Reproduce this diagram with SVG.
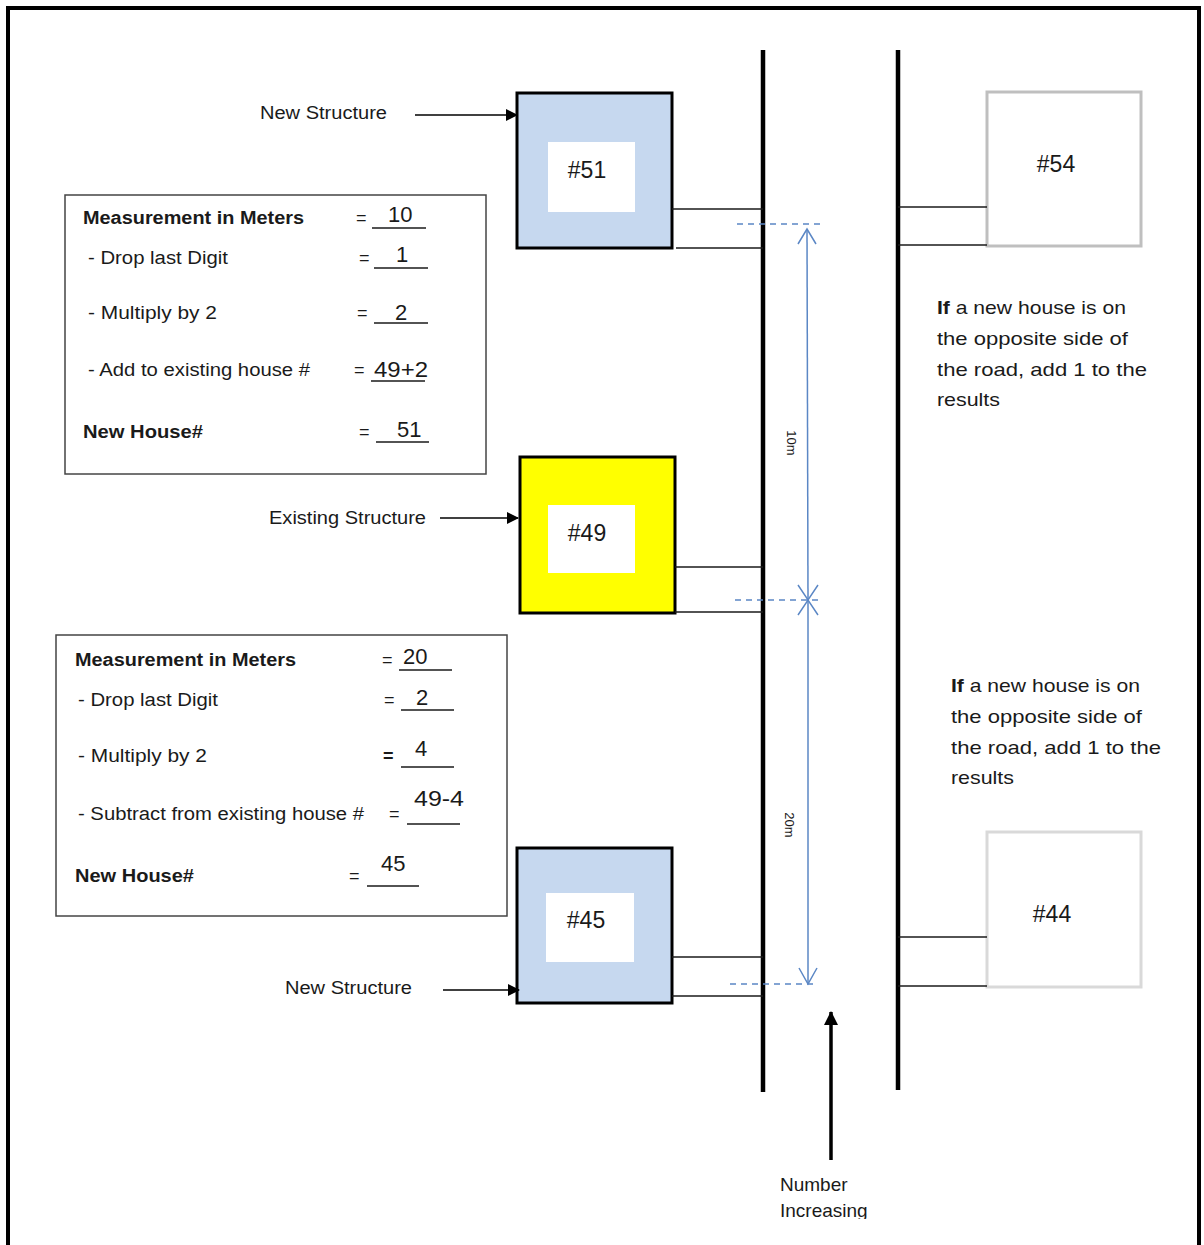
<svg xmlns="http://www.w3.org/2000/svg" width="1204" height="1245" viewBox="0 0 1204 1245">
<style>
text{font-family:"Liberation Sans",Arial,sans-serif;fill:#1a1a1a}
.lbl{font-size:18px}
.b{font-weight:bold}
.num{font-size:22px}
.hn{font-size:23px;text-anchor:middle}
.thin{stroke:#1a1a1a;stroke-width:1.3;fill:none}
.road{stroke:#000;stroke-width:4.5;fill:none}
.dim{stroke:#5b87c5;stroke-width:1.5;fill:none}
.dash{stroke:#5b87c5;stroke-width:1.5;stroke-dasharray:6 5;fill:none}
.arr{stroke:#000;stroke-width:1.5;fill:none}
.box{stroke:#444;stroke-width:1.5;fill:#fff}
.note{font-size:19px}
</style>
<defs>
<marker id="ah" markerWidth="12" markerHeight="12" refX="11" refY="6" orient="auto" markerUnits="userSpaceOnUse">
<path d="M0,0 L12,6 L0,12 Z" fill="#000"/>
</marker>
<marker id="ahBig" markerWidth="14" markerHeight="14" refX="13" refY="7" orient="auto" markerUnits="userSpaceOnUse">
<path d="M0,0 L14,7 L0,14 Z" fill="#000"/>
</marker>
<clipPath id="clipBottom"><rect x="0" y="0" width="1204" height="1219"/></clipPath>
</defs>
<rect x="0" y="0" width="1204" height="1245" fill="#fff"/>
<rect x="8" y="8" width="1191" height="1270" fill="none" stroke="#000" stroke-width="4"/>

<g id="roads">
<line class="road" x1="763" y1="50" x2="763" y2="1092"/>
<line class="road" x1="898" y1="50" x2="898" y2="1090"/>
</g>

<g id="house-51">
<rect x="517" y="93" width="155" height="155" fill="#c6d8ef" stroke="#000" stroke-width="3"/>
<rect x="548" y="142" width="87" height="70" fill="#fff"/>
<text class="hn" x="587" y="178">#51</text>
</g>
<g id="house-49">
<rect x="520" y="457" width="155" height="156" fill="#ffff00" stroke="#000" stroke-width="3"/>
<rect x="548" y="505" width="87" height="68" fill="#fff"/>
<text class="hn" x="587" y="541">#49</text>
</g>
<g id="house-45">
<rect x="517" y="848" width="155" height="155" fill="#c6d8ef" stroke="#000" stroke-width="3"/>
<rect x="546" y="893" width="88" height="69" fill="#fff"/>
<text class="hn" x="586" y="928">#45</text>
</g>
<g id="house-54">
<rect x="987" y="92" width="154" height="154" fill="#fff" stroke="#bfbfbf" stroke-width="3"/>
<text class="hn" x="1056" y="172">#54</text>
</g>
<g id="house-44">
<rect x="987" y="832" width="154" height="155" fill="#fff" stroke="#d9d9d9" stroke-width="3"/>
<text class="hn" x="1052" y="922">#44</text>
</g>

<g id="calc-box-1">
<rect class="box" x="65" y="195" width="421" height="279"/>
<text class="lbl b" x="83" y="224" textLength="221" lengthAdjust="spacingAndGlyphs">Measurement in Meters</text>
<text class="lbl" x="356" y="224">=</text>
<text class="num" x="388" y="222">10</text>
<line class="thin" x1="372" y1="228" x2="426" y2="228"/>
<text class="lbl" x="88" y="264" textLength="140" lengthAdjust="spacingAndGlyphs">- Drop last Digit</text>
<text class="lbl" x="359" y="264">=</text>
<text class="num" x="396" y="262">1</text>
<line class="thin" x1="374" y1="268" x2="428" y2="268"/>
<text class="lbl" x="88" y="319" textLength="129" lengthAdjust="spacingAndGlyphs">- Multiply  by 2</text>
<text class="lbl" x="357" y="319">=</text>
<text class="num" x="395" y="320">2</text>
<line class="thin" x1="374" y1="323" x2="428" y2="323"/>
<text class="lbl" x="88" y="376" textLength="222" lengthAdjust="spacingAndGlyphs">- Add to existing house  #</text>
<text class="lbl" x="354" y="376">=</text>
<text class="num" x="374" y="377" textLength="54" lengthAdjust="spacingAndGlyphs">49+2</text>
<line class="thin" x1="371" y1="381" x2="425" y2="381"/>
<text class="lbl b" x="83" y="438" textLength="120" lengthAdjust="spacingAndGlyphs">New House#</text>
<text class="lbl" x="359" y="438">=</text>
<text class="num" x="397" y="437">51</text>
<line class="thin" x1="376" y1="442" x2="429" y2="442"/>
</g>

<g id="calc-box-2">
<rect class="box" x="56" y="635" width="451" height="281"/>
<text class="lbl b" x="75" y="666" textLength="221" lengthAdjust="spacingAndGlyphs">Measurement in Meters</text>
<text class="lbl" x="382" y="666">=</text>
<text class="num" x="403" y="664">20</text>
<line class="thin" x1="399" y1="670" x2="452" y2="670"/>
<text class="lbl" x="78" y="706" textLength="140" lengthAdjust="spacingAndGlyphs">- Drop last Digit</text>
<text class="lbl" x="384" y="706">=</text>
<text class="num" x="416" y="705">2</text>
<line class="thin" x1="401" y1="710" x2="454" y2="710"/>
<text class="lbl" x="78" y="762" textLength="129" lengthAdjust="spacingAndGlyphs">- Multiply  by 2</text>
<text class="lbl b" x="383" y="762">=</text>
<text class="num" x="415" y="756">4</text>
<line class="thin" x1="401" y1="767" x2="454" y2="767"/>
<text class="lbl" x="78" y="820" textLength="286" lengthAdjust="spacingAndGlyphs">- Subtract from existing house  #</text>
<text class="lbl" x="389" y="820">=</text>
<text class="num" x="414" y="806" textLength="50" lengthAdjust="spacingAndGlyphs">49-4</text>
<line class="thin" x1="407" y1="824" x2="460" y2="824"/>
<text class="lbl b" x="75" y="882" textLength="119" lengthAdjust="spacingAndGlyphs">New House#</text>
<text class="lbl" x="349" y="882">=</text>
<text class="num" x="381" y="871">45</text>
<line class="thin" x1="367" y1="886" x2="419" y2="886"/>
</g>

<g id="labels">
<text class="lbl" x="260" y="119" textLength="127" lengthAdjust="spacingAndGlyphs">New Structure</text>
<text class="lbl" x="269" y="524" textLength="157" lengthAdjust="spacingAndGlyphs">Existing Structure</text>
<text class="lbl" x="285" y="994" textLength="127" lengthAdjust="spacingAndGlyphs">New Structure</text>
<text class="note" x="937" y="314" textLength="189" lengthAdjust="spacingAndGlyphs"><tspan class="b">If</tspan> a new house is on</text>
<text class="note" x="937" y="345" textLength="191" lengthAdjust="spacingAndGlyphs">the opposite side of</text>
<text class="note" x="937" y="376" textLength="210" lengthAdjust="spacingAndGlyphs">the road, add 1 to the</text>
<text class="note" x="937" y="406" textLength="63" lengthAdjust="spacingAndGlyphs">results</text>
<text class="note" x="951" y="692" textLength="189" lengthAdjust="spacingAndGlyphs"><tspan class="b">If</tspan> a new house is on</text>
<text class="note" x="951" y="723" textLength="191" lengthAdjust="spacingAndGlyphs">the opposite side of</text>
<text class="note" x="951" y="754" textLength="210" lengthAdjust="spacingAndGlyphs">the road, add 1 to the</text>
<text class="note" x="951" y="784" textLength="63" lengthAdjust="spacingAndGlyphs">results</text>
<text class="note" x="780" y="1191">Number</text>
<text class="note" x="780" y="1217" clip-path="url(#clipBottom)">Increasing</text>
<text x="787" y="443" font-size="13" text-anchor="middle" transform="rotate(90 787 443)">10m</text>
<text x="785" y="825" font-size="13" text-anchor="middle" transform="rotate(90 785 825)">20m</text>
</g>

<g id="connectors">
<line class="thin" x1="672" y1="209" x2="763" y2="209"/>
<line class="thin" x1="676" y1="248" x2="763" y2="248"/>
<line class="thin" x1="675" y1="567" x2="763" y2="567"/>
<line class="thin" x1="675" y1="612" x2="763" y2="612"/>
<line class="thin" x1="672" y1="957" x2="763" y2="957"/>
<line class="thin" x1="672" y1="996" x2="763" y2="996"/>
<line class="thin" x1="898" y1="207" x2="987" y2="207"/>
<line class="thin" x1="898" y1="245" x2="987" y2="245"/>
<line class="thin" x1="898" y1="937" x2="987" y2="937"/>
<line class="thin" x1="898" y1="986" x2="987" y2="986"/>
<line class="arr" x1="415" y1="115" x2="517" y2="115" marker-end="url(#ah)"/>
<line class="arr" x1="440" y1="518" x2="518" y2="518" marker-end="url(#ah)"/>
<line class="arr" x1="443" y1="990" x2="519" y2="990" marker-end="url(#ah)"/>
<line x1="831" y1="1160" x2="831" y2="1012" stroke="#000" stroke-width="3.5" marker-end="url(#ahBig)"/>
<line class="dash" x1="737" y1="224" x2="824" y2="224"/>
<line class="dash" x1="735" y1="600" x2="820" y2="600"/>
<line class="dash" x1="730" y1="984" x2="815" y2="984"/>
<line class="dim" x1="807" y1="229" x2="808" y2="600"/>
<line class="dim" x1="808" y1="600" x2="808" y2="984"/>
<polyline class="dim" points="798,244 807,229 816,244"/>
<polyline class="dim" points="798,585 808,600 818,585"/>
<polyline class="dim" points="798,615 808,600 818,615"/>
<polyline class="dim" points="799,968 808,984 817,968"/>
</g>
</svg>
